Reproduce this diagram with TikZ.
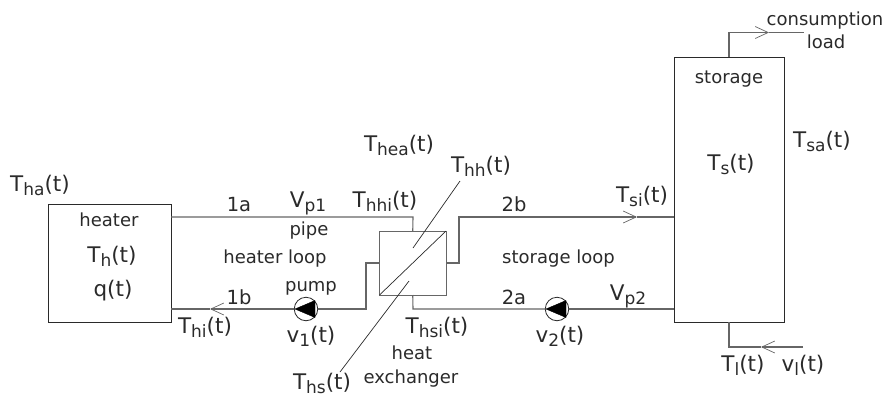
\documentclass[tikz,border=0pt]{standalone}
\usepackage{fontspec}
\setmainfont{DejaVu Sans}
\usetikzlibrary{arrows.meta}
\definecolor{ink}{HTML}{2A2A2A}
\definecolor{pipe}{HTML}{666666}
\newcommand{\lab}[3]{{\fontsize{21.5}{22}\selectfont #1\raisebox{-4.5pt}{\fontsize{17}{18}\selectfont #2}#3}}
\tikzset{
  x=1pt,y=-1pt,
  every node/.style={inner sep=0pt,outer sep=0pt,text=ink,font=\fontsize{18}{20}\selectfont},
  txt/.style={anchor=base},
  num/.style={anchor=base,font=\fontsize{19.5}{20}\selectfont},
  big/.style={anchor=base,font=\fontsize{21.5}{22}\selectfont},
  vessel/.style={draw=ink,line width=0.9pt,rectangle,anchor=north west},
  hxbox/.style={draw=pipe,line width=1pt,rectangle,anchor=north west,minimum width=66.5pt,minimum height=64pt},
  pipeline/.style={draw=pipe,line width=1.1pt},
  thin line/.style={draw=ink,line width=0.7pt},
  flow/.style={draw=pipe,line width=1.1pt,-{Straight Barb[length=13pt,width=12pt,line width=0.7pt]}},
  pumpring/.style={circle,draw=ink,line width=0.8pt,fill=white,minimum size=23.5pt},
  pumphead/.style={fill=black,draw=black,line width=0.4pt,line join=round}
}
\begin{document}
\begin{tikzpicture}
\useasboundingbox (0,0) rectangle (884,397);
% components
\node[vessel,minimum width=123pt,minimum height=118pt] (heater) at (48,204) {};
\node[vessel,minimum width=110.5pt,minimum height=265pt] (storage) at (674,57) {};
\node[hxbox] (hx) at (379.5,231) {};
\node[pumpring] (p1) at (306,309) {};
\node[pumpring] (p2) at (557,309) {};
% free ends and arrow positions
\coordinate (cFrom) at (729,57);
\coordinate (cEnd) at (804,32.5);
\coordinate (cMid) at (769,32.5);
\coordinate (lEnd) at (803,347);
\coordinate (lMid) at (761,347);
\coordinate (lTo) at (729,322);
\coordinate (aHi) at (210,309);
\coordinate (aSi) at (637,217);
% heater loop
\draw[pipeline] (171,217) -- (413,217) -- (hx.north);
\draw[pipeline] (hx.west) -- (366,263) -- (366,309) -- (p1.east);
\draw[flow] (p1.west) -- (aHi);
\draw[pipeline] (aHi) -- (171,309);
% storage loop
\draw[flow] (hx.east) -- (459,263) -- (459,217) -- (aSi);
\draw[pipeline] (aSi) -- (674,217);
\draw[pipeline] (hx.south) -- (413,309) -- (p2.west);
\draw[pipeline] (p2.east) -- (674,309);
% consumption
\draw[flow] (cFrom) -- (729,32.5) -- (cMid);
\draw[pipeline] (cMid) -- (cEnd);
\draw[flow] (lEnd) -- (lMid);
\draw[pipeline] (lMid) -- (729,347) -- (lTo);
% exchanger internals
\draw[thin line] (hx.south west) -- (hx.north east);
\coordinate (thhA) at (460,181);
\coordinate (thhB) at (413,248);
\coordinate (thsA) at (409,281);
\coordinate (thsB) at (340,372);
\draw[thin line] (thhA) -- (thhB);
\draw[thin line] (thsA) -- (thsB);
% pump heads
\fill[pumphead] (295,309) -- (315,300.5) -- (315,317.5) -- cycle;
\fill[pumphead] (546,309) -- (566,300.5) -- (566,317.5) -- cycle;
% labels
\node[txt] (t1) at (40,191) {\lab{T}{ha}{(t)}};
\node[txt] (t2) at (109,226) {heater};
\node[txt] (t3) at (112,262) {\lab{T}{h}{(t)}};
\node[big] (t4) at (113,296) {q(t)};
\node[num] (t5) at (239,211) {1a};
\node[num] (t6) at (239,304) {1b};
\node[txt] (t7) at (308,207) {\lab{V}{p1}{}};
\node[txt] (t8) at (309,235) {pipe};
\node[txt] (t9) at (275,263) {heater loop};
\node[txt] (t10) at (311,291) {pump};
\node[txt] (t11) at (205,333) {\lab{T}{hi}{(t)}};
\node[txt] (t12) at (311,342) {\lab{v}{1}{(t)}};
\node[txt] (t13) at (385,207) {\lab{T}{hhi}{(t)}};
\node[txt] (t14) at (399,151) {\lab{T}{hea}{(t)}};
\node[txt] (t15) at (481,172) {\lab{T}{hh}{(t)}};
\node[txt] (t16) at (437,333) {\lab{T}{hsi}{(t)}};
\node[txt] (t17) at (412,359) {heat};
\node[txt] (t18) at (411,383) {exchanger};
\node[txt] (t19) at (322,389) {\lab{T}{hs}{(t)}};
\node[num] (t20) at (514,211) {2b};
\node[num] (t21) at (514,304) {2a};
\node[txt] (t22) at (558.5,263) {storage loop};
\node[txt] (t23) at (560,342) {\lab{v}{2}{(t)}};
\node[txt] (t24) at (642,202) {\lab{T}{si}{(t)}};
\node[txt] (t25) at (628,300) {\lab{V}{p2}{}};
\node[txt] (t26) at (729,83) {storage};
\node[txt] (t27) at (731,170) {\lab{T}{s}{(t)}};
\node[txt] (t28) at (822,147) {\lab{T}{sa}{(t)}};
\node[txt] (t29) at (825,25) {consumption};
\node[txt] (t30) at (826,48) {load};
\node[txt] (t31) at (743,371) {\lab{T}{l}{(t)}};
\node[txt] (t32) at (803,371) {\lab{v}{l}{(t)}};
\end{tikzpicture}
\end{document}
